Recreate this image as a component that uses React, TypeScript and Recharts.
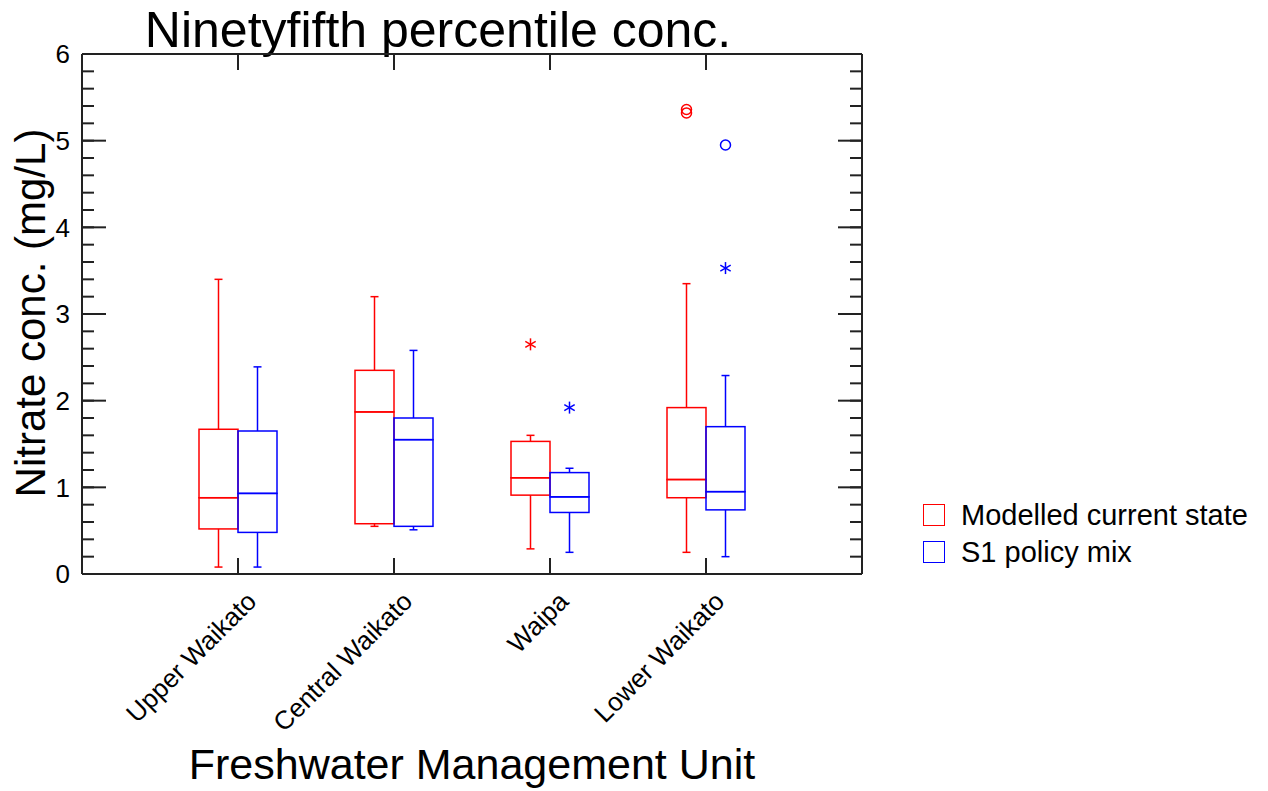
import {
  Bar,
  ComposedChart,
  Legend,
  Scatter,
  XAxis,
  YAxis,
} from 'recharts';

const FONT = '"Liberation Sans", Arial, Helvetica, sans-serif';
const AXIS_COLOR = '#222';

const UNITS = ['Upper Waikato', 'Central Waikato', 'Waipa', 'Lower Waikato'];

// Modelled current state
const CURRENT_MIN = [0.08, 0.55, 0.29, 0.25];
const CURRENT_Q1 = [0.52, 0.58, 0.91, 0.88];
const CURRENT_MEDIAN = [0.88, 1.87, 1.11, 1.09];
const CURRENT_Q3 = [1.67, 2.35, 1.53, 1.92];
const CURRENT_MAX = [3.4, 3.2, 1.6, 3.35];
const CURRENT_OUTLIERS = [[], [], [2.65], []];
const CURRENT_FAR_OUTLIERS = [[], [], [], [5.36, 5.32]];

// S1 policy mix
const S1_MIN = [0.08, 0.51, 0.25, 0.2];
const S1_Q1 = [0.48, 0.55, 0.71, 0.74];
const S1_MEDIAN = [0.93, 1.55, 0.89, 0.95];
const S1_Q3 = [1.65, 1.8, 1.17, 1.7];
const S1_MAX = [2.39, 2.58, 1.22, 2.29];
const S1_OUTLIERS = [[], [], [1.92], [3.53]];
const S1_FAR_OUTLIERS = [[], [], [], [4.95]];

const Y_TICKS = [0, 1, 2, 3, 4, 5, 6];
const Y_MINOR_TICKS = Array.from({ length: 31 }, (_, i) => i / 5);
const X_DOMAIN: [number, number] = [0, 5];
const Y_DOMAIN: [number, number] = [0, 6];
const BOX_SHIFT = 0.125;

const SERIES = [
  {
    key: 'current',
    name: 'Modelled current state',
    color: '#ff0000',
    min: CURRENT_MIN,
    q1: CURRENT_Q1,
    median: CURRENT_MEDIAN,
    q3: CURRENT_Q3,
    max: CURRENT_MAX,
    outliers: CURRENT_OUTLIERS,
    far: CURRENT_FAR_OUTLIERS,
    side: -1,
  },
  {
    key: 's1',
    name: 'S1 policy mix',
    color: '#0000ff',
    min: S1_MIN,
    q1: S1_Q1,
    median: S1_MEDIAN,
    q3: S1_Q3,
    max: S1_MAX,
    outliers: S1_OUTLIERS,
    far: S1_FAR_OUTLIERS,
    side: 1,
  },
];

// stacked segments: invisible base, lower whisker, lower box, upper box, upper whisker
const boxData = UNITS.map((unit, i) => {
  const row: Record<string, string | number> = { unit };
  SERIES.forEach((s) => {
    row[`${s.key}Base`] = s.min[i];
    row[`${s.key}LowWhisker`] = s.q1[i] - s.min[i];
    row[`${s.key}LowBox`] = s.median[i] - s.q1[i];
    row[`${s.key}HighBox`] = s.q3[i] - s.median[i];
    row[`${s.key}HighWhisker`] = s.max[i] - s.q3[i];
  });
  return row;
});

const toPoints = (lists: number[][], side: number) =>
  lists.flatMap((vals, i) =>
    vals.map((v) => ({ x: i + 1 + side * BOX_SHIFT, y: v })),
  );

const Whisker = (props: any) => {
  const { x, y, width, height, color, cap } = props;
  const cx = x + width / 2;
  const capY = cap === 'top' ? y : y + height;
  return (
    <g stroke={color} strokeWidth={1.5}>
      <line x1={cx} x2={cx} y1={y} y2={y + height} />
      <line x1={cx - 4} x2={cx + 4} y1={capY} y2={capY} />
    </g>
  );
};

const BoxPart = (props: any) => {
  const { x, y, width, height, color } = props;
  return (
    <rect
      x={x}
      y={y}
      width={width}
      height={height}
      fill="none"
      stroke={color}
      strokeWidth={1.5}
    />
  );
};

const Asterisk = (props: any) => {
  const { cx, cy, color } = props;
  const r = 6;
  const dx = r * Math.cos(Math.PI / 6);
  const dy = r * Math.sin(Math.PI / 6);
  return (
    <g stroke={color} strokeWidth={1.5}>
      <line x1={cx} y1={cy - r} x2={cx} y2={cy + r} />
      <line x1={cx - dx} y1={cy - dy} x2={cx + dx} y2={cy + dy} />
      <line x1={cx - dx} y1={cy + dy} x2={cx + dx} y2={cy - dy} />
    </g>
  );
};

const Ring = (props: any) => {
  const { cx, cy, color } = props;
  return (
    <circle cx={cx} cy={cy} r={5} fill="none" stroke={color} strokeWidth={1.5} />
  );
};

const UnitTick = (props: any) => {
  const { x, y, payload } = props;
  const ax = x + 20;
  const ay = y + 29;
  return (
    <text
      x={ax}
      y={ay}
      textAnchor="end"
      transform={`rotate(-45, ${ax}, ${ay})`}
      fontSize={26}
      fontFamily={FONT}
      fill="#000"
    >
      {payload.value}
    </text>
  );
};

const ValueTick = (props: any) => {
  const { x, y, payload } = props;
  return (
    <text
      x={x}
      y={y}
      dy="0.36em"
      textAnchor="end"
      fontSize={26}
      fontFamily={FONT}
      fill="#000"
    >
      {payload.value}
    </text>
  );
};

// tick marks only, no label (tick={false} would drop the marks too)
const NoLabel = () => <g />;

const LegendContent = () => (
  <div style={{ fontFamily: FONT, fontSize: 29, color: '#000' }}>
    {SERIES.map((s) => (
      <div
        key={s.key}
        style={{
          display: 'flex',
          alignItems: 'center',
          height: 36.5,
          lineHeight: '36.5px',
          whiteSpace: 'nowrap',
        }}
      >
        <span
          style={{
            display: 'inline-block',
            width: 22,
            height: 22,
            boxSizing: 'border-box',
            border: `1.5px solid ${s.color}`,
            marginRight: 16,
          }}
        />
        <span>{s.name}</span>
      </div>
    ))}
  </div>
);

const axisLine = { stroke: AXIS_COLOR, strokeWidth: 2 };
const tickLine = { stroke: AXIS_COLOR, strokeWidth: 2 };
const CAT_PADDING = { left: 78, right: 78 };
// mirrored frame axes need a non-zero size to be drawn, but should take no room
const THIN = 0.001;

const App = () => {
  return (
    <div
      style={{
        position: 'absolute',
        left: 0,
        top: 0,
        width: 1268,
        height: 791,
        fontFamily: FONT,
      }}
    >
      <ComposedChart
        width={1268}
        height={791}
        data={boxData}
        margin={{ top: 54, right: 406, bottom: 0, left: 0 }}
        barGap={0}
        barCategoryGap="25%"
      >
        <XAxis
          xAxisId="cat"
          dataKey="unit"
          type="category"
          height={217}
          padding={CAT_PADDING}
          stroke={AXIS_COLOR}
          axisLine={axisLine}
          tickLine={false}
          tickSize={0}
          tickMargin={0}
          interval={0}
          tick={(p: any) => <UnitTick {...p} />}
        />
        <XAxis
          xAxisId="num"
          type="number"
          dataKey="x"
          domain={X_DOMAIN}
          allowDataOverflow
          hide
        />
        <XAxis
          xAxisId="bottomTicks"
          dataKey="unit"
          type="category"
          padding={CAT_PADDING}
          mirror
          height={THIN}
          stroke={AXIS_COLOR}
          axisLine={false}
          tickLine={tickLine}
          tickSize={16}
          tick={NoLabel}
          interval={0}
        />
        <XAxis
          xAxisId="top"
          orientation="top"
          dataKey="unit"
          type="category"
          padding={CAT_PADDING}
          mirror
          height={THIN}
          stroke={AXIS_COLOR}
          axisLine={axisLine}
          tickLine={tickLine}
          tickSize={16}
          tick={NoLabel}
          interval={0}
        />
        <YAxis
          yAxisId="y"
          type="number"
          domain={Y_DOMAIN}
          ticks={Y_TICKS}
          allowDataOverflow
          width={82}
          stroke={AXIS_COLOR}
          axisLine={axisLine}
          tickLine={false}
          tickSize={0}
          tickMargin={12}
          interval={0}
          tick={(p: any) => <ValueTick {...p} />}
        />
        <YAxis
          yAxisId="leftMajor"
          type="number"
          domain={Y_DOMAIN}
          ticks={Y_TICKS}
          allowDataOverflow
          mirror
          width={THIN}
          stroke={AXIS_COLOR}
          axisLine={false}
          tickLine={tickLine}
          tickSize={24}
          tick={NoLabel}
          interval={0}
        />
        <YAxis
          yAxisId="leftMinor"
          type="number"
          domain={Y_DOMAIN}
          ticks={Y_MINOR_TICKS}
          allowDataOverflow
          mirror
          width={THIN}
          stroke={AXIS_COLOR}
          axisLine={false}
          tickLine={tickLine}
          tickSize={12}
          tick={NoLabel}
          interval={0}
        />
        <YAxis
          yAxisId="rightMajor"
          orientation="right"
          type="number"
          domain={Y_DOMAIN}
          ticks={Y_TICKS}
          allowDataOverflow
          mirror
          width={THIN}
          stroke={AXIS_COLOR}
          axisLine={axisLine}
          tickLine={tickLine}
          tickSize={24}
          tick={NoLabel}
          interval={0}
        />
        <YAxis
          yAxisId="rightMinor"
          orientation="right"
          type="number"
          domain={Y_DOMAIN}
          ticks={Y_MINOR_TICKS}
          allowDataOverflow
          mirror
          width={THIN}
          stroke={AXIS_COLOR}
          axisLine={false}
          tickLine={tickLine}
          tickSize={12}
          tick={NoLabel}
          interval={0}
        />

        {SERIES.map((s) => [
          <Bar
            key={`${s.key}-base`}
            xAxisId="cat"
            yAxisId="y"
            dataKey={`${s.key}Base`}
            stackId={s.key}
            fill="none"
            legendType="none"
            isAnimationActive={false}
          />,
          <Bar
            key={`${s.key}-lw`}
            xAxisId="cat"
            yAxisId="y"
            dataKey={`${s.key}LowWhisker`}
            stackId={s.key}
            legendType="none"
            isAnimationActive={false}
            shape={(p: any) => <Whisker {...p} color={s.color} cap="bottom" />}
          />,
          <Bar
            key={`${s.key}-lb`}
            xAxisId="cat"
            yAxisId="y"
            dataKey={`${s.key}LowBox`}
            stackId={s.key}
            legendType="none"
            isAnimationActive={false}
            shape={(p: any) => <BoxPart {...p} color={s.color} />}
          />,
          <Bar
            key={`${s.key}-hb`}
            xAxisId="cat"
            yAxisId="y"
            dataKey={`${s.key}HighBox`}
            stackId={s.key}
            legendType="none"
            isAnimationActive={false}
            shape={(p: any) => <BoxPart {...p} color={s.color} />}
          />,
          <Bar
            key={`${s.key}-hw`}
            xAxisId="cat"
            yAxisId="y"
            dataKey={`${s.key}HighWhisker`}
            stackId={s.key}
            legendType="none"
            isAnimationActive={false}
            shape={(p: any) => <Whisker {...p} color={s.color} cap="top" />}
          />,
        ])}

        {SERIES.map((s) => [
          <Scatter
            key={`${s.key}-out`}
            xAxisId="num"
            yAxisId="y"
            dataKey="y"
            data={toPoints(s.outliers, s.side)}
            legendType="none"
            isAnimationActive={false}
            shape={(p: any) => <Asterisk {...p} color={s.color} />}
          />,
          <Scatter
            key={`${s.key}-far`}
            xAxisId="num"
            yAxisId="y"
            dataKey="y"
            data={toPoints(s.far, s.side)}
            legendType="none"
            isAnimationActive={false}
            shape={(p: any) => <Ring {...p} color={s.color} />}
          />,
        ])}

        <Legend
          layout="horizontal"
          align="center"
          verticalAlign="middle"
          wrapperStyle={{ left: 923, top: 497, width: 'auto' }}
          content={() => <LegendContent />}
        />

        <text
          x={438}
          y={47}
          textAnchor="middle"
          fontSize={50}
          fontFamily={FONT}
          fill="#000"
        >
          Ninetyfifth percentile conc.
        </text>
        <text
          x={45}
          y={313}
          textAnchor="middle"
          transform="rotate(-90, 45, 313)"
          fontSize={42}
          fontFamily={FONT}
          fill="#000"
        >
          Nitrate conc. (mg/L)
        </text>
        <text
          x={472}
          y={779}
          textAnchor="middle"
          fontSize={43}
          fontFamily={FONT}
          fill="#000"
        >
          Freshwater Management Unit
        </text>
      </ComposedChart>
    </div>
  );
};

export default App;
